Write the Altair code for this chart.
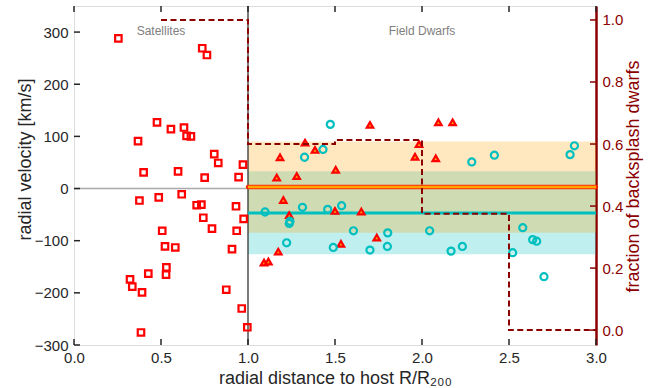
import altair as alt
import pandas as pd

# ---------------- data ----------------
# satellites (red open squares)
sat_r = [0.255, 0.737, 0.764, 0.477, 0.557, 0.632, 0.647, 0.672, 0.368, 0.806,
         0.829, 0.971, 0.400, 0.598, 0.751, 0.946, 0.376, 0.487, 0.619, 0.705,
         0.732, 0.931, 0.743, 0.975, 0.793, 0.935, 0.507, 0.523, 0.582, 0.908,
         0.531, 0.427, 0.529, 0.322, 0.335, 0.391, 0.875, 0.964, 0.385, 0.996]
sat_v = [288, 269, 256, 127, 114, 117, 101, 100, 91, 66,
         49, 46, 31, 33, 21, 22, -23, -17, -11, -32,
         -31, -34, -56, -58, -77, -81, -81, -111, -113, -116,
         -151, -163, -165, -174, -188, -199, -194, -230, -276, -266]

# backsplash dwarfs (triangles)
bs_r = [1.701, 2.094, 2.176, 1.328, 1.385, 1.184, 1.504, 1.165, 1.280, 1.203,
        1.500, 1.651, 1.237, 1.740, 1.534, 1.174, 1.092, 1.117, 1.960, 1.983, 2.079]
bs_v = [122, 127, 127, 88, 74, 60, 36, 21, 24, -22,
        -43, -44, -51, -94, -106, -121, -142, -140, 61, 85, 58]

# field dwarfs (cyan open circles)
fd_r = [1.473, 1.431, 1.325, 1.098, 1.313, 1.458, 1.538, 1.241, 1.237, 1.606,
        1.803, 1.222, 1.490, 1.701, 1.801, 2.286, 2.416, 2.851, 2.876, 2.044,
        2.167, 2.232, 2.579, 2.636, 2.659, 2.521, 2.701]
fd_v = [123, 75, 60, -45, -36, -40, -33, -63, -67, -81,
        -85, -104, -113, -118, -111, 51, 64, 65, 82, -81,
        -120, -111, -75, -98, -101, -123, -169]

# mean velocities and spreads (x from 1 to 3)
band_x = [1.0, 3.0]
orange_mean, orange_lo, orange_hi = 3, -85, 90
cyan_mean, cyan_lo, cyan_hi = -47, -126, 33

# fraction of backsplash dwarfs (step)
step_r = [0.5, 1.0, 1.0, 1.5, 1.5, 2.0, 2.0, 2.5, 2.5, 3.0]
step_f = [1.0, 1.0, 0.6, 0.6, 0.613, 0.613, 0.375, 0.375, 0.0, 0.0]

x_ticks = [0.0, 0.5, 1.0, 1.5, 2.0, 2.5, 3.0]
y_ticks = [-300, -200, -100, 0, 100, 200, 300]
f_ticks = [0.0, 0.2, 0.4, 0.6, 0.8, 1.0]

labels = ["Satellites", "Field Dwarfs"]
label_r = [0.5, 2.0]
label_v = [302, 302]

# ---------------- layout ----------------
W, H = 522, 339
DARKRED = "#8B0000"
CYAN = "#00BFBF"
INK = "#262626"
FONT = "Liberation Sans"

xscale = alt.Scale(domain=[0, 3], nice=False, zero=False)
yscale = alt.Scale(domain=[-300, 350], nice=False, zero=False)
fscale = alt.Scale(domain=[-0.048, 1.045], nice=False, zero=False)

xaxis = alt.Axis(values=x_ticks, format=".1f", ticks=False, domain=False, grid=False,
                 labelFontSize=15, labelColor=INK, labelPadding=5, labelFlush=False,
                 title="radial distance to host R/R₂₀₀", titleFontSize=18,
                 titleFontWeight="normal", titleColor=INK, titleX=W / 2, titleY=33,
                 titleAlign="center", titleBaseline="middle")
yaxis = alt.Axis(orient="left", values=y_ticks, ticks=False, domain=False, grid=False,
                 labelFontSize=15, labelColor=INK, labelPadding=6,
                 title="radial velocity [km/s]", titleFontSize=18, titleFontWeight="normal",
                 titleColor=INK, titleAngle=270, titleX=-49, titleY=153,
                 titleAlign="center", titleBaseline="middle")
faxis = alt.Axis(orient="right", values=f_ticks, format=".1f", ticks=False, domain=True,
                 domainColor=DARKRED, domainWidth=2.5, grid=False,
                 labelFontSize=15, labelColor=DARKRED, labelPadding=6,
                 title="fraction of backsplash dwarfs", titleFontSize=18,
                 titleFontWeight="normal", titleColor=DARKRED, titleAngle=270,
                 titleX=37, titleY=170, titleAlign="center", titleBaseline="middle")


def X(f):
    return alt.X(f, type="quantitative", scale=xscale, axis=xaxis)


def Y(f):
    return alt.Y(f, type="quantitative", scale=yscale, axis=yaxis)


def X2(f):
    return alt.X2(f)


sat = pd.DataFrame({"r": sat_r, "v": sat_v})
bs = pd.DataFrame({"r": bs_r, "v": bs_v})
fd = pd.DataFrame({"r": fd_r, "v": fd_v})
bands = pd.DataFrame({
    "x0": [band_x[0]] * 2, "x1": [band_x[1]] * 2,
    "lo": [cyan_lo, orange_lo], "hi": [cyan_hi, orange_hi],
    "c": [CYAN, "#FFA500"], "o": [0, 1],
})
means = pd.DataFrame({"x0": [band_x[0]], "x1": [band_x[1]],
                      "om": [orange_mean], "cm": [cyan_mean]})
zero = pd.DataFrame({"x0": [0.0], "x1": [1.0], "v": [0]})
step = pd.DataFrame({"r": step_r, "f": step_f, "i": list(range(len(step_r)))})
txt = pd.DataFrame({"t": labels, "r": label_r, "v": label_v})
xt = pd.DataFrame({"r": x_ticks})
yt = pd.DataFrame({"v": y_ticks})
ft = pd.DataFrame({"f": f_ticks})

band_layer = alt.Chart(bands).mark_rect(opacity=0.25).encode(
    x=X("x0"), x2=X2("x1"), y=Y("lo"), y2=alt.Y2("hi"),
    color=alt.Color("c:N", scale=None), order=alt.Order("o:Q"))

zero_line = alt.Chart(zero).mark_rule(color="#A9A9A9", strokeWidth=1.5).encode(
    x=X("x0"), x2=X2("x1"), y=Y("v"))
vline = alt.Chart(zero).mark_rule(color="#333333", strokeWidth=1.3).encode(
    x=X("x1"))

red_line = alt.Chart(means).mark_rule(color="#FF2A00", strokeWidth=4.5, strokeCap="round").encode(
    x=X("x0"), x2=X2("x1"), y=Y("om"))
orange_line = alt.Chart(means).mark_rule(color="#FFA500", strokeWidth=2.5).encode(
    x=X("x0"), x2=X2("x1"), y=Y("om"))
cyan_line = alt.Chart(means).mark_rule(color=CYAN, strokeWidth=3).encode(
    x=X("x0"), x2=X2("x1"), y=Y("cm"))

squares = alt.Chart(sat).mark_point(shape="square", filled=False, color="#FF0000",
                                    strokeWidth=2.2, size=42, opacity=1).encode(
    x=X("r"), y=Y("v"))
triangles = alt.Chart(bs).mark_point(shape="triangle-up", filled=True, fill="#FFA500",
                                     stroke="#FF0000", strokeWidth=2.2, size=42,
                                     opacity=1).encode(x=X("r"), y=Y("v"))
circles = alt.Chart(fd).mark_point(shape="circle", filled=False, color=CYAN,
                                   strokeWidth=2.2, size=50, opacity=1).encode(
    x=X("r"), y=Y("v"))

texts = alt.Chart(txt).mark_text(fontSize=12, color="#808080", font=FONT,
                                 baseline="middle", align="center").encode(
    x=X("r"), y=Y("v"), text="t:N")

# inward ticks
left_ticks = alt.Chart(yt).mark_rule(color=INK, strokeWidth=1.5).encode(
    y=Y("v"), x=alt.value(0), x2=alt.value(6))
bottom_ticks = alt.Chart(xt).mark_rule(color=INK, strokeWidth=1.5).encode(
    x=X("r"), y=alt.value(H), y2=alt.value(H - 6))
top_ticks = alt.Chart(xt).mark_rule(color=INK, strokeWidth=1.5).encode(
    x=X("r"), y=alt.value(0), y2=alt.value(6))

left = alt.layer(band_layer, zero_line, vline, red_line, orange_line, cyan_line,
                 squares, triangles, circles, texts, left_ticks, bottom_ticks, top_ticks)

F = alt.Y("f", type="quantitative", scale=fscale, axis=faxis)
step_line = alt.Chart(step).mark_line(color=DARKRED, strokeWidth=2,
                                      strokeDash=[6, 3.5]).encode(
    x=X("r"), y=F, order="i:Q")
right_ticks = alt.Chart(ft).mark_rule(color=DARKRED, strokeWidth=1.5).encode(
    y=F, x=alt.value(W), x2=alt.value(W - 6))
right = alt.layer(step_line, right_ticks)

chart = alt.layer(left, right).resolve_scale(y="independent").properties(
    width=W, height=H,
    autosize=alt.AutoSizeParams(type="none"),
    padding={"left": 74, "top": 6, "right": 63, "bottom": 43},
    background="white",
).configure_view(stroke=INK, strokeWidth=1.8).configure(font=FONT)

chart.save("out.html", embed_options={"renderer": "svg", "actions": False})
